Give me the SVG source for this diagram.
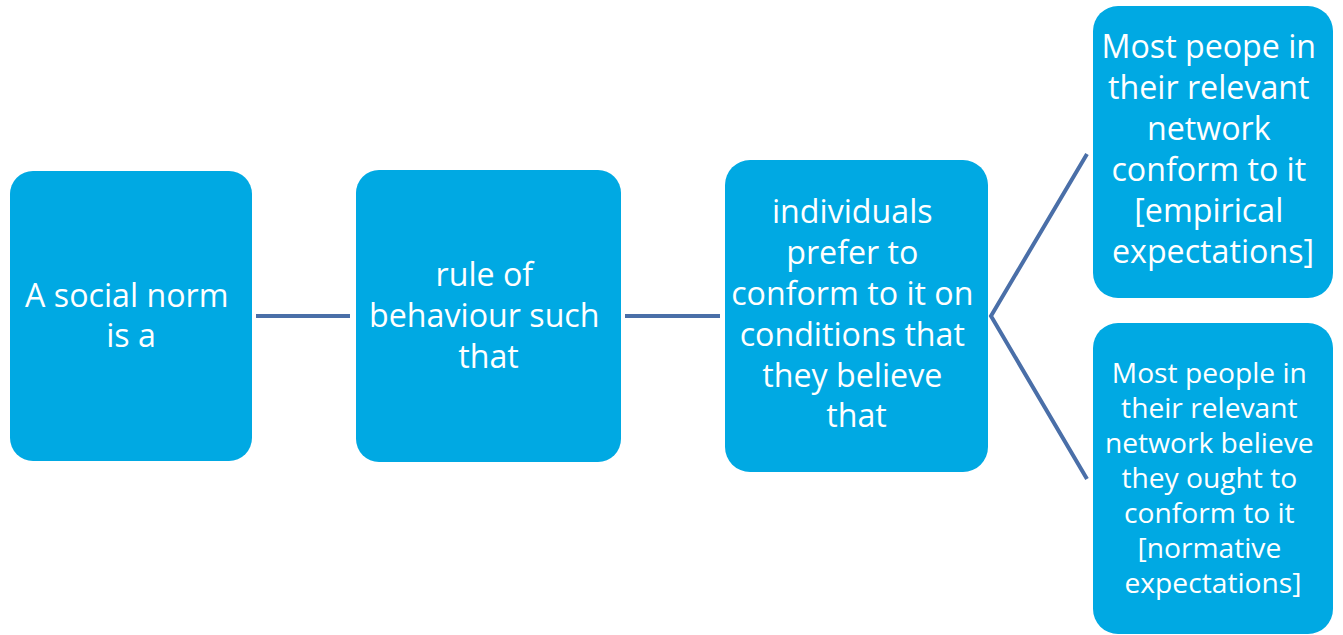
<svg xmlns="http://www.w3.org/2000/svg" width="1343" height="635" viewBox="0 0 1343 635">
  <style>
    .box { fill: #00A9E3; }
    .lbl { font-family: "Open Sans", "Liberation Sans", sans-serif; fill: #FFFFFF; text-anchor: middle; }
    .big { font-size: 32.2px; }
    .small { font-size: 28.2px; }
    .link { stroke: #4A6FA8; stroke-width: 4; fill: none; }
  </style>
  <rect width="1343" height="635" fill="#FFFFFF"/>

  <!-- connectors -->
  <g id="connectors">
    <line class="link" x1="256" y1="316" x2="350" y2="316" stroke="#44679B"/>
    <line class="link" x1="625" y1="316" x2="720" y2="316"/>
    <polyline class="link" points="1087,154 991,316 1087,479"/>
  </g>

  <g id="node-social-norm">
    <rect class="box" x="10" y="171" width="242" height="290" rx="23"/>
    <text class="lbl big">
      <tspan x="131" y="307">A social norm</tspan>
      <tspan x="131" y="347">is a</tspan>
    </text>
  </g>

  <g id="node-rule">
    <rect class="box" x="356" y="170" width="265" height="292" rx="23"/>
    <text class="lbl big">
      <tspan x="488.5" y="286">rule of</tspan>
      <tspan x="488.5" y="327">behaviour such</tspan>
      <tspan x="488.5" y="368">that</tspan>
    </text>
  </g>

  <g id="node-individuals">
    <rect class="box" x="725" y="160" width="263" height="312" rx="25"/>
    <text class="lbl big">
      <tspan x="856.5" y="223">individuals</tspan>
      <tspan x="856.5" y="264">prefer to</tspan>
      <tspan x="856.5" y="305">conform to it on</tspan>
      <tspan x="856.5" y="346">conditions that</tspan>
      <tspan x="856.5" y="387">they believe</tspan>
      <tspan x="856.5" y="427">that</tspan>
    </text>
  </g>

  <g id="node-empirical">
    <rect class="box" x="1093" y="6" width="240" height="292" rx="25"/>
    <text class="lbl big">
      <tspan x="1213" y="58">Most peope in</tspan>
      <tspan x="1213" y="99">their relevant</tspan>
      <tspan x="1213" y="140">network</tspan>
      <tspan x="1213" y="181">conform to it</tspan>
      <tspan x="1213" y="222">[empirical</tspan>
      <tspan x="1213" y="263">expectations]</tspan>
    </text>
  </g>

  <g id="node-normative">
    <rect class="box" x="1093" y="323" width="240" height="311" rx="25"/>
    <text class="lbl small">
      <tspan x="1213" y="383">Most people in</tspan>
      <tspan x="1213" y="418">their relevant</tspan>
      <tspan x="1213" y="453">network believe</tspan>
      <tspan x="1213" y="488">they ought to</tspan>
      <tspan x="1213" y="523">conform to it</tspan>
      <tspan x="1213" y="558">[normative</tspan>
      <tspan x="1213" y="593">expectations]</tspan>
    </text>
  </g>
</svg>
